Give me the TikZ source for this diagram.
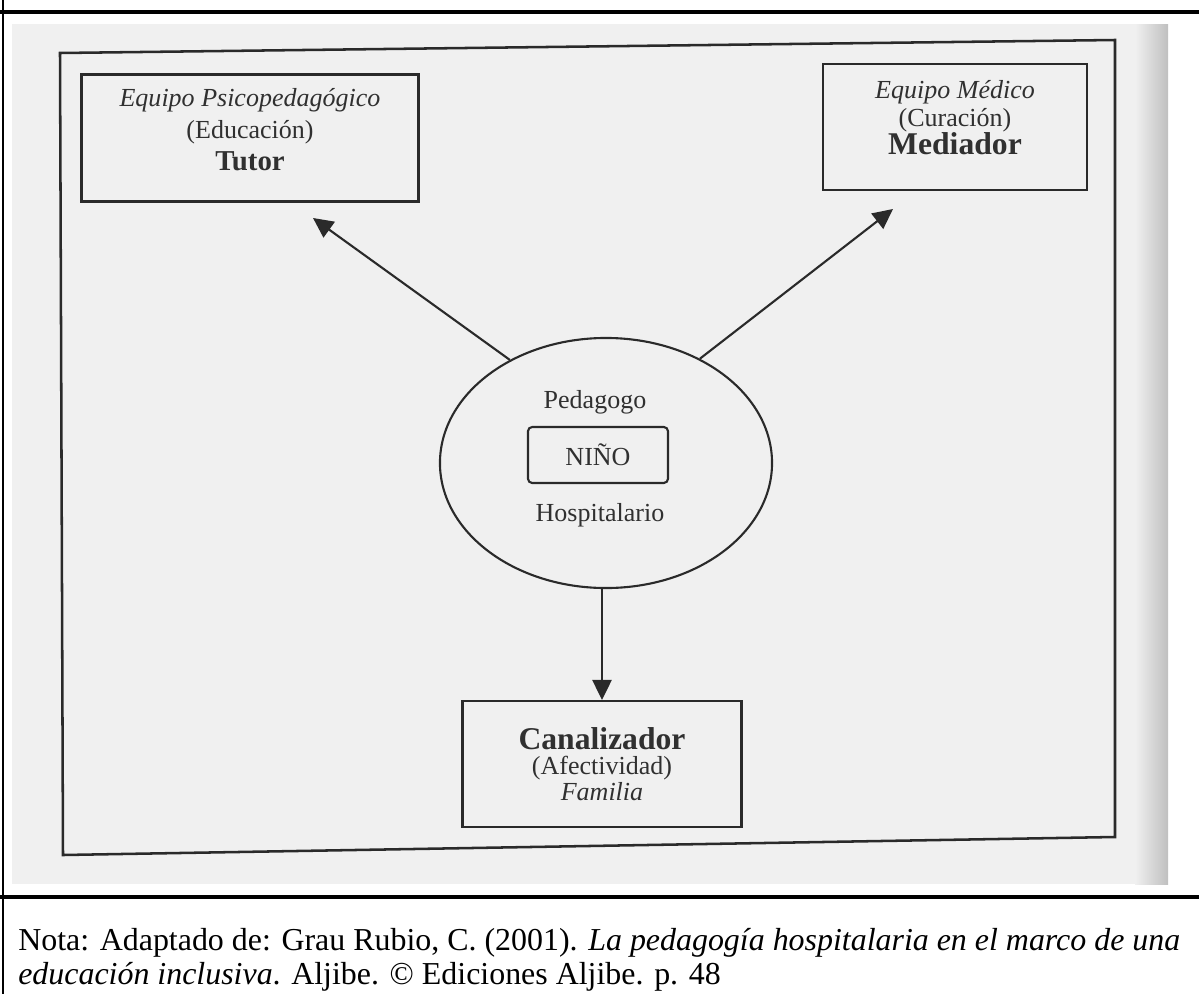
\documentclass[tikz,border=0pt]{standalone}
\usepackage{fontspec}
\setmainfont{Liberation Serif}
\usetikzlibrary{arrows.meta,shapes.geometric,positioning}

\definecolor{linea}{HTML}{2A2A2A}
\definecolor{tinta}{HTML}{303030}
\definecolor{escaneo}{HTML}{F0F0F0}

\tikzset{
  caja/.style={draw=linea, line width=1.5pt, rectangle, align=center, text=tinta, inner sep=0pt},
  rotulo/.style={text=tinta, inner sep=0pt},
  flecha/.style={draw=linea, line width=1.5pt, -{Triangle[length=0.5cm,width=0.48cm]}},
}

\begin{document}
\begin{tikzpicture}[x=0.025cm,y=-0.025cm,font=\fontsize{18.5}{20}\selectfont]
\useasboundingbox (0,0) rectangle (1199,994);
% fondo del escaneo
\fill[escaneo] (12,24) rectangle (1168,884);
\shade[left color=escaneo, right color=gray!50] (1135,24) rectangle (1168,884);
% lineas de la tabla
\draw[line width=1.8pt] (3,0) -- (3,994);
\draw[line width=2.5pt] (0,12) -- (1199,12);
\draw[line width=2.5pt] (0,897) -- (1199,897);
% marco
\draw[linea, line width=1.8pt] (60,53) -- (1115,40) -- (1115,837) -- (63,855) -- cycle;

\node[caja, minimum width=8.425cm, minimum height=3.175cm,
  font=\fontsize{18.5}{23}\selectfont] (tutor) at (250,138)
  {\textit{Equipo Psicopedagógico}\\(Educación)\\{\fontsize{20.5}{23}\selectfont\bfseries Tutor}\rule[-12pt]{0pt}{12pt}};
\node[caja, minimum width=6.6cm, minimum height=3.15cm,
  font=\fontsize{18.5}{20}\selectfont] (mediador) at (955,127)
  {\textit{Equipo Médico}\\(Curación)\\{\fontsize{22.5}{21.5}\selectfont\bfseries Mediador}\rule[-14pt]{0pt}{14pt}};
\node[caja, minimum width=6.975cm, minimum height=3.15cm,
  font=\fontsize{18.5}{18}\selectfont] (canal) at (602,764)
  {{\fontsize{22.5}{18}\selectfont\bfseries Canalizador}\\(Afectividad)\\\textit{Familia}};

\node[draw=linea, line width=1.5pt, ellipse, minimum width=8.3cm, minimum height=6.25cm, inner sep=0pt] (nino) at (606,463) {};
\node[rotulo] (pedagogo) at (595,402) {Pedagogo};
\node[caja, rounded corners=3pt, minimum width=3.5cm, minimum height=1.4cm] (ninobox) at (598,455) {NIÑO};
\node[rotulo] (hospital) at (600,515) {Hospitalario};

\coordinate (puntaT) at (313,218);
\coordinate (puntaM) at (893,209);
\draw[flecha] (nino.133) -- (puntaT);
\draw[flecha] (nino.48) -- (puntaM);
\draw[flecha] (canal.north |- nino.south) -- (canal.north);

\node[anchor=north west, align=left, inner sep=0pt, font=\fontsize{22.7}{24.5}\selectfont] (nota) at (18,928)
  {Nota: Adaptado de: Grau Rubio, C. (2001). \textit{La pedagogía hospitalaria en el marco de una}\\
   \textit{educación inclusiva}. Aljibe. © Ediciones Aljibe. p. 48};
\end{tikzpicture}
\end{document}
